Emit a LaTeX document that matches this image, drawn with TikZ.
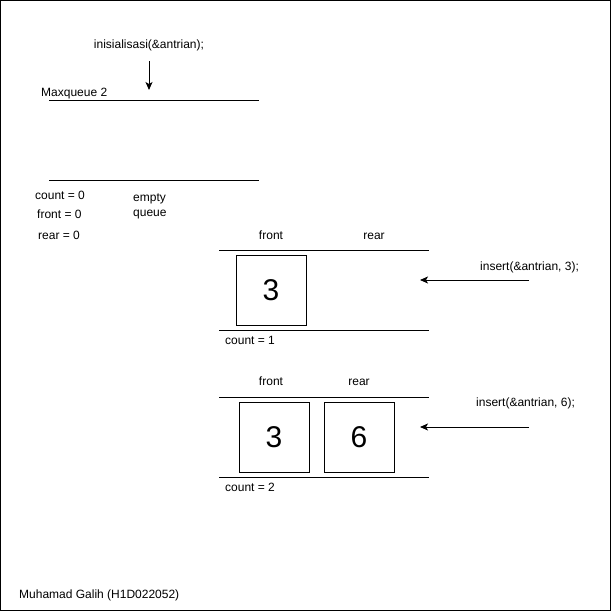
\documentclass[tikz,border=0pt]{standalone}
\usepackage{fontspec}
\setmainfont{Liberation Sans}
\usetikzlibrary{arrows.meta}
\begin{document}
\begin{tikzpicture}[x=1pt,y=-1pt,
  lbl/.style={font=\fontsize{12}{14}\selectfont, inner sep=0pt, anchor=base west},
  clbl/.style={font=\fontsize{12}{14}\selectfont, inner sep=0pt, anchor=base},
  cell/.style={draw, line width=1pt, minimum size=70pt, inner sep=0pt, font=\fontsize{30}{32}\selectfont},
  wall/.style={line width=1pt},
  call/.style={line width=1pt, -{Stealth[length=8pt,width=7pt,inset=2pt]}}]
% frame and fixed page size
\draw[line width=1pt] (0.5,0.5) rectangle (610.5,610.5);
\useasboundingbox (0,0) rectangle (611,611);

% initialisation: empty queue
\node[clbl] (init) at (149,48) {inisialisasi(\&antrian);};
\coordinate (initfrom) at (149,61);
\coordinate (initto) at (149,90);
\draw[call] (initfrom) -- (initto);
\node[lbl] (maxq) at (41,96) {Maxqueue 2};
\draw[wall] (49,100) -- (259,100);
\draw[wall] (49,180) -- (259,180);
\node[lbl] (cnt0) at (35,199) {count = 0};
\node[lbl] (frt0) at (37,218) {front = 0};
\node[lbl] (rer0) at (38,239) {rear = 0};
\node[lbl] (empty) at (133,201) {empty};
\node[lbl] (queue) at (133,216) {queue};

% after inserting 3
\node[clbl] (front1) at (271,239) {front};
\node[clbl] (rear1) at (374,239) {rear};
\draw[wall] (219,250) -- (429,250);
\node[cell] (a3) at (271,290) {3};
\draw[wall] (219,330) -- (429,330);
\node[lbl] (cnt1) at (225,344) {count = 1};
\node[lbl] (ins3) at (480,270) {insert(\&antrian, 3);};
\coordinate (ins3from) at (529,280);
\coordinate (ins3to) at (420,280);
\draw[call] (ins3from) -- (ins3to);

% after inserting 6
\node[clbl] (front2) at (271,385) {front};
\node[clbl] (rear2) at (359,385) {rear};
\draw[wall] (219,397) -- (429,397);
\node[cell] (b3) at (274,437) {3};
\node[cell] (b6) at (359,437) {6};
\draw[wall] (219,477) -- (429,477);
\node[lbl] (cnt2) at (225,491) {count = 2};
\node[lbl] (ins6) at (476,406) {insert(\&antrian, 6);};
\coordinate (ins6from) at (529,427);
\coordinate (ins6to) at (420,427);
\draw[call] (ins6from) -- (ins6to);

\node[lbl] (author) at (19,598) {Muhamad Galih (H1D022052)};
\end{tikzpicture}
\end{document}
